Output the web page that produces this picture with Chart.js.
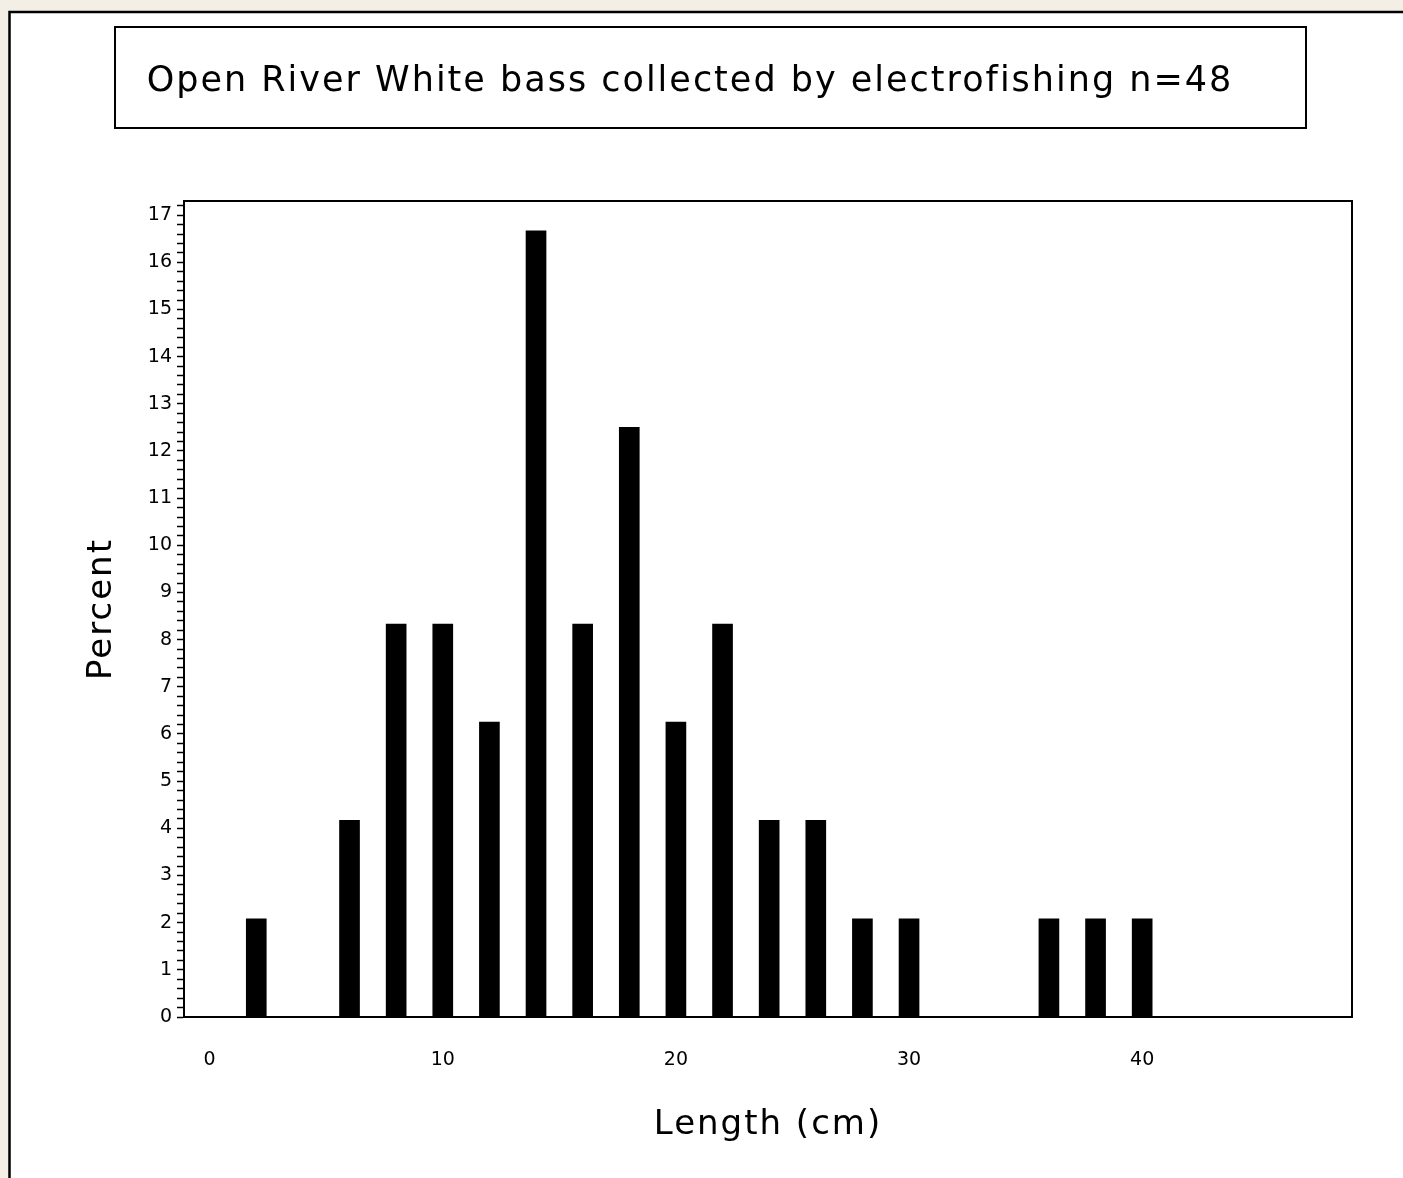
<!DOCTYPE html>
<html>
<head>
<meta charset="utf-8">
<title>Open River White bass</title>
<script src="https://cdn.jsdelivr.net/npm/chart.js@4.4.1/dist/chart.umd.min.js"></script>
<style>
  html, body { margin: 0; padding: 0; background: #f3efe7; }
  canvas { display: block; }
</style>
</head>
<body>
<canvas id="lengthChart" width="1403" height="1178"></canvas>
<script>
// length class midpoints (cm) and percent of fish in each class
const lengthMidpoints = [2, 6, 8, 10, 12, 14, 16, 18, 20, 22, 24, 26, 28, 30, 36, 38, 40];
const percentValues = [2.08, 4.17, 8.33, 8.33, 6.25, 16.67, 8.33, 12.5, 6.25, 8.33, 4.17, 4.17, 2.08, 2.08, 2.08, 2.08, 2.08];
const xTickValues = [0, 10, 20, 30, 40];
const yTickStep = 0.2;   // minor ticks, labels only on whole numbers

const chartTitle = 'Open River White bass collected by electrofishing n=48';
const xTitle = 'Length (cm)';
const yTitle = 'Percent';

Chart.defaults.font.family = '"DejaVu Sans", sans-serif';
Chart.defaults.color = '#000';

// page frame, title box and the box round the plot
const framePlugin = {
    id: 'framePlugin',
    beforeDraw(chart) {
        const ctx = chart.ctx;
        ctx.save();
        ctx.fillStyle = '#f3efe7';
        ctx.fillRect(0, 0, chart.width, chart.height);
        ctx.fillStyle = '#ffffff';
        ctx.fillRect(10, 12, chart.width, chart.height);
        ctx.strokeStyle = '#000';
        ctx.lineWidth = 2.5;
        ctx.beginPath();
        ctx.moveTo(9.5, chart.height + 5);
        ctx.lineTo(9.5, 12);
        ctx.lineTo(chart.width + 5, 12);
        ctx.stroke();
        ctx.lineWidth = 2;
        ctx.strokeRect(115, 27, 1191, 101);
        ctx.restore();
        // the old SAS fonts are wide, spread the title letters a bit
        ctx.letterSpacing = '2px';
    },
    afterDatasetsDraw(chart) {
        // tick labels come after the bars (z: 1), keep them tight
        chart.ctx.letterSpacing = '0px';
    },
    afterDraw(chart) {
        const a = chart.chartArea;
        const ctx = chart.ctx;
        ctx.save();
        ctx.strokeStyle = '#000';
        ctx.lineWidth = 2;
        ctx.strokeRect(a.left, a.top, a.right - a.left, a.bottom - a.top);
        ctx.restore();
    }
};

const points = lengthMidpoints.map((x, i) => ({ x: x, y: percentValues[i] }));

new Chart(document.getElementById('lengthChart'), {
    type: 'bar',
    data: {
        datasets: [{
            label: 'Percent',
            data: points,
            backgroundColor: '#000',
            borderWidth: 0,
            barThickness: 20
        }]
    },
    options: {
        responsive: false,
        animation: false,
        layout: { padding: { top: 0, left: 28, right: 51, bottom: 0 } },
        plugins: {
            legend: { display: false },
            tooltip: { enabled: false },
            title: {
                display: true,
                text: chartTitle,
                color: '#000',
                font: { size: 35, weight: 'normal' },
                padding: { top: 61, bottom: 98 }
            }
        },
        scales: {
            x: {
                type: 'linear',
                min: -1.1,
                max: 49,
                offset: false,
                grid: { display: false, offset: false },
                border: { display: true, color: '#000', width: 2 },
                ticks: {
                    z: 1,
                    padding: 24,
                    font: { size: 19 },
                    color: '#000'
                },
                afterBuildTicks(scale) {
                    scale.ticks = xTickValues.map(v => ({ value: v }));
                },
                title: {
                    display: true,
                    text: xTitle,
                    color: '#000',
                    font: { size: 34 },
                    padding: { top: 0, bottom: 32 }
                },
                afterFit(scale) { scale.height = 161; }
            },
            y: {
                min: 0,
                max: 17.3,
                grid: {
                    drawOnChartArea: false,
                    drawTicks: true,
                    tickLength: 7,
                    tickColor: '#000',
                    tickWidth: 1.5
                },
                border: { display: true, color: '#000', width: 2 },
                ticks: {
                    z: 1,
                    stepSize: yTickStep,
                    includeBounds: false,
                    autoSkip: false,
                    maxTicksLimit: 200,
                    padding: 5,
                    font: { size: 19 },
                    color: '#000',
                    callback: v => Math.abs(v - Math.round(v)) < 1e-6 ? Math.round(v) : ''
                },
                title: {
                    display: true,
                    text: yTitle,
                    color: '#000',
                    font: { size: 34 },
                    padding: { top: 54, bottom: 0 }
                },
                afterFit(scale) { scale.width = 156; }
            }
        }
    },
    plugins: [framePlugin]
});
</script>
</body>
</html>
